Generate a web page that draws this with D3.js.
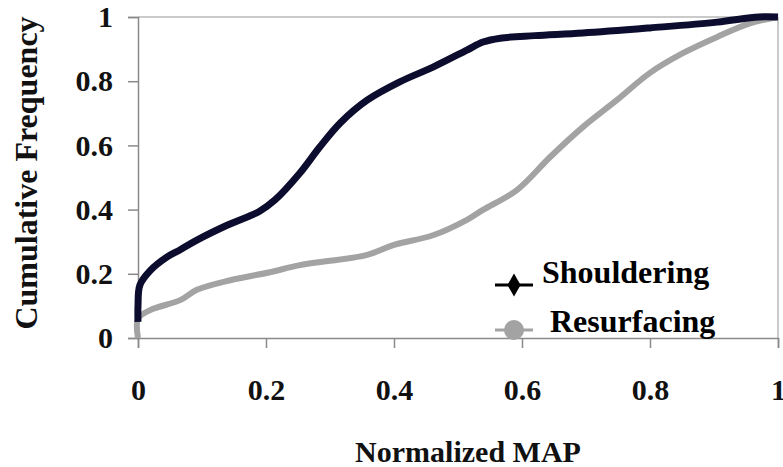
<!DOCTYPE html>
<html><head><meta charset="utf-8">
<script src="https://cdn.jsdelivr.net/npm/d3@7/dist/d3.min.js"></script>
</head><body style="margin:0;background:#fff"><svg id="c" width="783" height="467"></svg>
<script>
const xTicks = [0, 0.2, 0.4, 0.6, 0.8, 1];
const yTicks = [0, 0.2, 0.4, 0.6, 0.8, 1];
const seriesNames = ["Shouldering", "Resurfacing"];
const shoulderingX = [0, 0, 0.003, 0.019, 0.045, 0.066, 0.092, 0.14, 0.19, 0.214, 0.253, 0.284, 0.316, 0.358, 0.409, 0.461, 0.514, 0.539, 0.566, 0.62, 0.695, 0.8, 0.905, 0.97, 1];
const shoulderingY = [0.05, 0.1, 0.165, 0.21, 0.252, 0.275, 0.305, 0.352, 0.395, 0.43, 0.514, 0.595, 0.67, 0.741, 0.798, 0.844, 0.897, 0.922, 0.934, 0.942, 0.95, 0.966, 0.984, 1.0, 1.0];
const resurfacingX = [0, 0, 0.019, 0.066, 0.092, 0.144, 0.206, 0.253, 0.358, 0.4, 0.461, 0.514, 0.539, 0.592, 0.644, 0.695, 0.748, 0.8, 0.852, 0.905, 0.956, 1];
const resurfacingY = [0.0, 0.06, 0.087, 0.118, 0.15, 0.18, 0.205, 0.227, 0.259, 0.29, 0.32, 0.368, 0.399, 0.461, 0.564, 0.657, 0.741, 0.826, 0.888, 0.938, 0.98, 1.0];
const colors = ["#0c0c2e", "#a3a3a3"];
const FONT = "Liberation Serif";

const svg = d3.select("#c");
const m = {l:138, r:5, t:17, b:129};
const W = 783, H = 467;
const x = d3.scaleLinear().domain([0,1]).range([m.l, W - m.r]);
const y = d3.scaleLinear().domain([0,1]).range([H - m.b, m.t]);

svg.append("line").attr("x1", x(0)).attr("x2", x(1)).attr("y1", y(1)).attr("y2", y(1)).attr("stroke","#b8b8b8").attr("stroke-width",1.5);
svg.append("line").attr("x1", x(1)).attr("x2", x(1)).attr("y1", y(1)).attr("y2", y(0)).attr("stroke","#b8b8b8").attr("stroke-width",1.5);

const gx = svg.append("g").attr("transform", `translate(0,${y(0)})`)
  .call(d3.axisBottom(x).tickValues(xTicks).tickFormat(d3.format("")).tickSize(10).tickPadding(31));
const gy = svg.append("g").attr("transform", `translate(${x(0)},0)`)
  .call(d3.axisLeft(y).tickValues(yTicks).tickFormat(d3.format("")).tickSize(10).tickPadding(15));
[gx, gy].forEach(g => {
  g.attr("font-family", FONT).attr("font-size", 30).attr("font-weight","bold");
  g.select(".domain").attr("stroke","#8a8a8a").attr("stroke-width",1.5);
  g.selectAll(".tick line").attr("stroke","#8a8a8a").attr("stroke-width",1.5);
  g.selectAll("text").attr("fill","#111").attr("font-family", FONT).attr("font-size", 30).attr("font-weight","bold");
});

const sData = shoulderingX.map((v,i)=>[v, shoulderingY[i]]);
const rData = resurfacingX.map((v,i)=>[v, resurfacingY[i]]);
const line = d3.line().x(d=>x(d[0])).y(d=>y(d[1])).curve(d3.curveCatmullRom.alpha(0.5));
svg.append("path").datum(rData).attr("d", line)
  .attr("fill","none").attr("stroke",colors[1]).attr("stroke-width",6).attr("stroke-linejoin","round");
svg.append("path").datum(sData).attr("d", line)
  .attr("fill","none").attr("stroke",colors[0]).attr("stroke-width",7).attr("stroke-linejoin","round");

const leg = svg.append("g");
const ly = [285, 330];
const lty = [283, 332];
seriesNames.forEach((n,i) => {
  leg.append("line").attr("x1",495).attr("x2",533).attr("y1",ly[i]).attr("y2",ly[i]).attr("stroke", i===0?"#000":colors[1]).attr("stroke-width",3);
  if (i===0) leg.append("path").attr("d", d3.symbol(d3.symbolDiamond, 150)()).attr("transform",`translate(514,${ly[i]})`).attr("fill","#000");
  else leg.append("circle").attr("cx",514).attr("cy",ly[i]).attr("r",10).attr("fill",colors[1]);
  leg.append("text").attr("x", i===0?542:550).attr("y", lty[i]).text(n)
    .attr("font-family", FONT).attr("font-size", 32).attr("font-weight","bold").attr("fill","#000");
});

svg.append("text").attr("x", 468).attr("y", 462).attr("text-anchor","middle").text("Normalized MAP")
  .attr("font-family", FONT).attr("font-size", 30).attr("font-weight","bold").attr("fill","#111");
svg.append("text").attr("transform","translate(37,173) rotate(-90)").attr("text-anchor","middle").text("Cumulative Frequency")
  .attr("font-family", FONT).attr("font-size", 32).attr("font-weight","bold").attr("fill","#111");
</script></body></html>
